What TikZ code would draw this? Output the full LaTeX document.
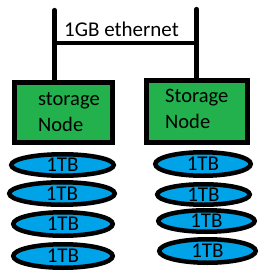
\documentclass[tikz,border=0pt]{standalone}
\usepackage{fontspec}
\setmainfont{Carlito}
\usetikzlibrary{shapes.geometric}
\definecolor{boxgreen}{HTML}{22B14C}
\definecolor{diskblue}{HTML}{00A2E8}
\begin{document}
\begin{tikzpicture}[x=1pt,y=1pt,
  wire/.style={line width=4.2pt,line cap=round},
  nodebox/.style={draw,line width=5pt,fill=boxgreen,minimum width=#1,inner sep=0pt},
  nodelabel/.style={anchor=base west,align=left,inner sep=0pt,font=\fontsize{20.5}{25.5}\selectfont},
  disk/.style={ellipse,draw,line width=4.5pt,fill=diskblue,inner sep=0pt,font=\fontsize{21}{24}\selectfont},
]
\useasboundingbox (0,0) rectangle (273,-277);
% network
\coordinate (ltop) at (54.5,-10);
\coordinate (rtop) at (196.5,-9);
\coordinate (ljoin) at (54.5,-43);
\coordinate (rjoin) at (194,-43);
% boxes
\node[nodebox=98pt,minimum height=60pt] (lbox) at (63.5,-112.5) {};
\node[nodebox=101pt,minimum height=62pt] (rbox) at (197,-111.5) {};
\draw[wire] (ltop) -- (ltop |- lbox.north);
\draw[wire] (rtop) -- (rtop |- rbox.north);
\draw[wire] (ljoin) -- (rjoin);
\node[nodelabel,font=\fontsize{21}{24}\selectfont] (eth) at (64,-36) {1GB ethernet};
\node[nodelabel] (ltext) at (38,-131) {storage\\Node};
\node[nodelabel] (rtext) at (165,-128) {Storage\\Node};
% disks
\node[disk,minimum width=102.5pt,minimum height=21.5pt] (l1) at (62.5,-165) {1TB};
\node[disk,minimum width=105.5pt,minimum height=22.5pt] (l2) at (62,-193.5) {1TB};
\node[disk,minimum width=99.5pt,minimum height=23.5pt] (l3) at (63,-224) {1TB};
\node[disk,minimum width=99.5pt,minimum height=23.5pt] (l4) at (63,-256) {1TB};
\node[disk,minimum width=95.5pt,minimum height=23.5pt] (r1) at (203,-164) {1TB};
\node[disk,minimum width=92.5pt,minimum height=20.5pt] (r2) at (203.5,-194.5) {1TB};
\node[disk,minimum width=96.5pt,minimum height=21.5pt] (r3) at (206.5,-221) {1TB};
\node[disk,minimum width=96.5pt,minimum height=23.5pt] (r4) at (207.5,-251) {1TB};
\end{tikzpicture}
\end{document}
